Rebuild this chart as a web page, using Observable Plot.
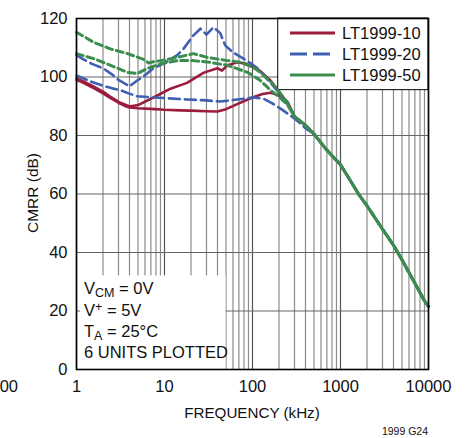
<!DOCTYPE html>
<html><head><meta charset="utf-8">
<script src="https://cdn.jsdelivr.net/npm/d3@7"></script>
<script src="https://cdn.jsdelivr.net/npm/@observablehq/plot@0.6"></script>
<style>body{margin:0;background:#fff} svg{display:block}</style>
</head><body><div id="chart"></div>
<script>
const FONT = "'Liberation Sans',Arial,Helvetica,sans-serif";

// tick labels
const xTicks = [1, 10, 100, 1000, 10000];
const yTicks = [0, 20, 40, 60, 80, 100, 120];

// LT1999-10, unit A (low)
const fRedA  = [1, 1.2, 1.5, 2, 2.5, 3, 3.5, 4, 5, 7, 10, 15, 20, 30, 40, 50, 70, 100, 130, 160, 200, 250];
const dbRedA = [99, 98, 96.5, 94.4, 92.6, 91.2, 90.2, 89.6, 89.3, 89.1, 88.8, 88.6, 88.5, 88.3, 88.2, 89, 91, 93, 94.2, 94.6, 93.8, 91.5];
// LT1999-10, unit B (high)
const fRedB  = [1, 1.2, 1.5, 2, 2.5, 3, 4, 5, 7.5, 11.7, 18, 28, 40, 45, 52, 67, 83, 100, 123, 160, 200, 250];
const dbRedB = [99.5, 98.5, 97, 95, 93, 91.5, 89.9, 90.4, 93, 96, 98, 101.5, 103, 102.2, 104, 105, 104.6, 103.5, 102, 98.8, 95, 91];
// LT1999-20, unit A (high)
const fBlueA  = [1, 1.2, 1.5, 2, 2.5, 3, 4, 4.9, 6, 7.5, 10, 14, 16.5, 21, 25.6, 30, 36, 43, 49, 60, 79, 100, 114, 160, 200, 250];
const dbBlueA = [107.5, 106, 104.5, 103, 101, 99, 96.8, 98.8, 100.6, 103, 104.8, 107.5, 109.7, 114, 116.5, 114.5, 117, 115, 110.8, 108.4, 106.3, 104.3, 103, 98, 94.6, 90.8];
// LT1999-20, unit B (low)
const fBlueB  = [1, 1.2, 1.44, 2, 2.5, 3.2, 3.9, 4.9, 7.5, 10, 18, 30, 43, 67, 103, 133, 168, 225, 310, 400];
const dbBlueB = [100.5, 99.5, 98.5, 97, 96.2, 95.4, 94.4, 93.4, 93, 92.8, 92.3, 92, 91.6, 92.3, 93, 92.6, 91, 88.5, 85.5, 82.5];
// LT1999-50, unit A (high)
const fGreenA  = [1, 1.56, 2.43, 3.8, 5.8, 6.6, 7.5, 9, 14, 21.3, 30.7, 52, 73, 102, 123, 160, 200, 250];
const dbGreenA = [115.3, 111.9, 109.6, 108, 106, 104.8, 105.2, 105.6, 106.7, 108, 106.7, 105.6, 105, 103.3, 101.5, 98.5, 95, 91.2];
// LT1999-50, unit B (low)
const fGreenB  = [1, 1.56, 2.43, 3.8, 4.9, 6.4, 9, 14, 21.3, 33, 52, 88, 123, 160, 200, 250];
const dbGreenB = [108, 106.3, 104, 101.6, 101.2, 102.9, 104.5, 105.6, 105.6, 105, 104, 101.6, 98.8, 95.5, 93.2, 90.5];
// common roll-off above ~300kHz (all six units overlap)
const fTail  = [300, 400, 500, 700, 1000, 1300, 1600, 2000, 3000, 4000, 5000, 7000, 9000, 10000];
const dbTail = [86.5, 83.5, 80.5, 75, 70, 64.5, 60, 56, 48, 42.5, 37.5, 29.5, 23.5, 21.5];

const seriesNames = ["LT1999-10", "LT1999-20", "LT1999-50"];
const colors = {"LT1999-10": "#9b1c3d", "LT1999-20": "#3f5fb4", "LT1999-50": "#3b8d4e"};

function unit(name, id, f, db) {
  const pts = f.map((x, i) => ({series: name, id, f: x, db: db[i]}));
  const last = f[f.length - 1];
  fTail.forEach((x, i) => { if (x > last) pts.push({series: name, id, f: x, db: dbTail[i]}); });
  return pts;
}
const red = [...unit(seriesNames[0], "a", fRedA, dbRedA), ...unit(seriesNames[0], "b", fRedB, dbRedB)];
const blue = [...unit(seriesNames[1], "a", fBlueA, dbBlueA), ...unit(seriesNames[1], "b", fBlueB, dbBlueB)];
const green = [...unit(seriesNames[2], "a", fGreenA, dbGreenA), ...unit(seriesNames[2], "b", fGreenB, dbGreenB)];

// grid positions
const majorX = xTicks;
const minorX = [];
for (let k = 0; k < 4; k++) for (let m = 2; m <= 9; m++) minorX.push(m * Math.pow(10, k));

const annoBox = [{x1: 1.11, x2: 50, y1: 0, y2: 32}];
const legendBox = [{x1: 196, x2: 10000, y1: 95.5, y2: 120}];

const W = 468, H = 438, ML = 76, MR = 40, MT = 18, MB = 69;

const plot = Plot.plot({
  width: W, height: H,
  marginLeft: ML, marginRight: MR, marginTop: MT, marginBottom: MB,
  style: {fontFamily: FONT, fontSize: "16.5px", color: "#111", background: "#fff", overflow: "visible"},
  x: {type: "log", domain: [1, 10000], label: null},
  y: {domain: [0, 120], label: null},
  marks: [
    Plot.ruleX(minorX, {stroke: "#8c8c8c", strokeWidth: 1.2}),
    Plot.ruleX(majorX, {stroke: "#555", strokeWidth: 1.2}),
    Plot.ruleY(yTicks, {stroke: "#666", strokeWidth: 1.2}),
    Plot.rect(annoBox, {x1: "x1", x2: "x2", y1: "y1", y2: "y2", fill: "#fff"}),
    Plot.rect(legendBox, {x1: "x1", x2: "x2", y1: "y1", y2: "y2", fill: "#fff", stroke: "#000", strokeWidth: 1}),
    Plot.line(red, {x: "f", y: "db", z: "id", stroke: colors["LT1999-10"], strokeWidth: 2.6}),
    Plot.line(blue, {x: "f", y: "db", z: "id", stroke: colors["LT1999-20"], strokeWidth: 2.6, strokeDasharray: "11,5"}),
    Plot.line(green, {x: "f", y: "db", z: "id", stroke: colors["LT1999-50"], strokeWidth: 3, strokeDasharray: "7,4"}),
    Plot.frame({stroke: "#000", strokeWidth: 1.6}),
    Plot.axisX({ticks: xTicks, tickFormat: d => String(d), tickSize: 0, tickPadding: 11}),
    Plot.axisY({ticks: yTicks, tickSize: 0, tickPadding: 9})
  ]
});
document.getElementById("chart").appendChild(plot);

const svg = d3.select(plot);
// legend
const lg = svg.append("g").attr("font-family", FONT).attr("font-size", 16.5).attr("text-anchor", "start");
seriesNames.forEach((name, i) => {
  const y = 33 + i * 21;
  lg.append("line").attr("x1", 290).attr("x2", 335).attr("y1", y).attr("y2", y)
    .attr("stroke", colors[name]).attr("stroke-width", 3)
    .attr("stroke-dasharray", i === 1 ? "17,6" : null);
  lg.append("text").attr("x", 342).attr("y", y + 6).attr("fill", "#111").text(name);
});
// conditions annotation
const an = svg.append("g").attr("font-family", FONT).attr("font-size", 16.5).attr("fill", "#111").attr("text-anchor", "start");
let t = an.append("text").attr("x", 84).attr("y", 294);
t.append("tspan").text("V");
t.append("tspan").attr("font-size", 12.5).attr("dy", 3).text("CM");
t.append("tspan").attr("dy", -3).text(" = 0V");
t = an.append("text").attr("x", 84).attr("y", 316);
t.append("tspan").text("V");
t.append("tspan").attr("font-size", 12.5).attr("dy", -5).text("+");
t.append("tspan").attr("dy", 5).text(" = 5V");
t = an.append("text").attr("x", 84).attr("y", 337);
t.append("tspan").text("T");
t.append("tspan").attr("font-size", 12.5).attr("dy", 3).text("A");
t.append("tspan").attr("dy", -3).text(" = 25°C");
an.append("text").attr("x", 84).attr("y", 358).text("6 UNITS PLOTTED");
// axis titles
svg.append("text").attr("font-family", FONT).attr("font-size", 15.5).attr("fill", "#111")
  .attr("text-anchor", "middle").attr("transform", "translate(38,193) rotate(-90)").text("CMRR (dB)");
svg.append("text").attr("font-family", FONT).attr("font-size", 15.2).attr("fill", "#111")
  .attr("text-anchor", "middle").attr("x", 252).attr("y", 418).text("FREQUENCY (kHz)");
svg.append("text").attr("font-family", FONT).attr("font-size", 10.5).attr("fill", "#111")
  .attr("text-anchor", "end").attr("x", 428).attr("y", 435).text("1999 G24");
svg.append("text").attr("font-family", FONT).attr("font-size", 16.5).attr("fill", "#111")
  .attr("text-anchor", "end").attr("x", 18).attr("y", 392).text("00");
</script></body></html>
